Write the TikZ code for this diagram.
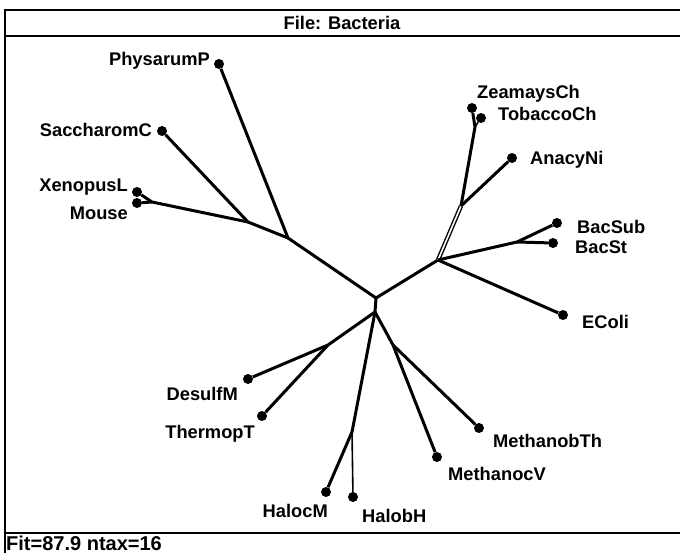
\documentclass[tikz,border=0pt]{standalone}
\usepackage{fontspec}
\setmainfont{Liberation Sans}
\usetikzlibrary{positioning}

\begin{document}
\begin{tikzpicture}[x=1pt,y=-1pt,
    tip/.style={circle,fill,inner sep=0pt,minimum size=10pt},
    lbl/.style={inner sep=0pt,font=\bfseries\fontsize{18.3}{22}\selectfont},
    edge/.style={line width=3pt},
    twig/.style={line width=1.6pt},
    twin/.style={double=white,double distance=1.6pt,line width=1.4pt}]
    \useasboundingbox (0,0) rectangle (680,553);
    % frame
    \draw[line width=2.2pt] (5,553)--(5,10)--(680,10);
    \draw[line width=2.2pt] (5,36)--(680,36);
    \draw[line width=2.2pt] (5,533)--(680,533);
    \node[lbl,anchor=base](title) at (342,30){File: Bacteria};
    \node[lbl,anchor=base west,font=\bfseries\fontsize{20}{24}\selectfont](fit) at (6,550){Fit=87.9 ntax=16};
    % inner forks
    \coordinate(c1) at (376,298);
    \coordinate(c2) at (375,312);
    \coordinate(l1) at (288,238);
    \coordinate(l2) at (248,222);
    \coordinate(l3) at (152,202);
    \coordinate(r1) at (438,260);
    \coordinate(r2) at (461,206);
    \coordinate(r3) at (475,127);
    \coordinate(r4) at (517,242);
    \coordinate(d1) at (328,345);
    \coordinate(h1) at (352,432);
    \coordinate(m1) at (393,345);
    % taxa
    \node[tip](physarum) at (219,64){};
    \node[tip](sacch) at (162,131){};
    \node[tip](xenopus) at (137,192){};
    \node[tip](mouse) at (137,203){};
    \node[tip](zeamays) at (472,108){};
    \node[tip](tobacco) at (481,118){};
    \node[tip](anacy) at (512,158){};
    \node[tip](bacsub) at (557,223){};
    \node[tip](bacst) at (553,243){};
    \node[tip](ecoli) at (563,315){};
    \node[tip](desulf) at (248,379){};
    \node[tip](thermop) at (262,416){};
    \node[tip](haloc) at (326,492){};
    \node[tip](halob) at (353,497){};
    \node[tip](methanoc) at (437,457){};
    \node[tip](methanob) at (479,428){};
    % names
    \node[lbl,anchor=base east](physarumT) at (210,66){PhysarumP};
    \node[lbl,anchor=base east](sacchT) at (152,137){SaccharomC};
    \node[lbl,anchor=base east](xenopusT) at (128,192){XenopusL};
    \node[lbl,anchor=base east](mouseT) at (128,220){Mouse};
    \node[lbl,anchor=base west](zeamaysT) at (477,99){ZeamaysCh};
    \node[lbl,anchor=base west](tobaccoT) at (498,121){TobaccoCh};
    \node[lbl,anchor=base west](anacyT) at (530,165){AnacyNi};
    \node[lbl,anchor=base west](bacsubT) at (577,234){BacSub};
    \node[lbl,anchor=base west](bacstT) at (575,254){BacSt};
    \node[lbl,anchor=base west](ecoliT) at (582,328){EColi};
    \node[lbl,anchor=base east](desulfT) at (238,400){DesulfM};
    \node[lbl,anchor=base east](thermopT) at (255,438){ThermopT};
    \node[lbl,anchor=base east](halocT) at (328,517){HalocM};
    \node[lbl,anchor=base west](halobT) at (362,522){HalobH};
    \node[lbl,anchor=base west](methanocT) at (448,480){MethanocV};
    \node[lbl,anchor=base west](methanobT) at (493,447){MethanobTh};
    % branches
    \draw[edge](c1)--(c2);
    \draw[edge](c1)--(l1)--(physarum);
    \draw[edge](l1)--(l2)--(sacch);
    \draw[edge](l2)--(l3)--(xenopus);
    \draw[edge](l3)--(mouse);
    \draw[edge](c1)--(r1)--(ecoli);
    \draw[twin](r1)--(r2);
    \draw[edge](r2)--(anacy);
    \draw[edge](r2)--(r3)--(zeamays);
    \draw[twig](r3)--(tobacco);
    \draw[edge](r1)--(r4)--(bacsub);
    \draw[edge](r4)--(bacst);
    \draw[edge](c2)--(d1)--(desulf);
    \draw[edge](d1)--(thermop);
    \draw[edge](c2)--(h1)--(haloc);
    \draw[twig](h1)--(halob);
    \draw[edge](c2)--(m1)--(methanoc);
    \draw[edge](m1)--(methanob);
\end{tikzpicture}
\end{document}
